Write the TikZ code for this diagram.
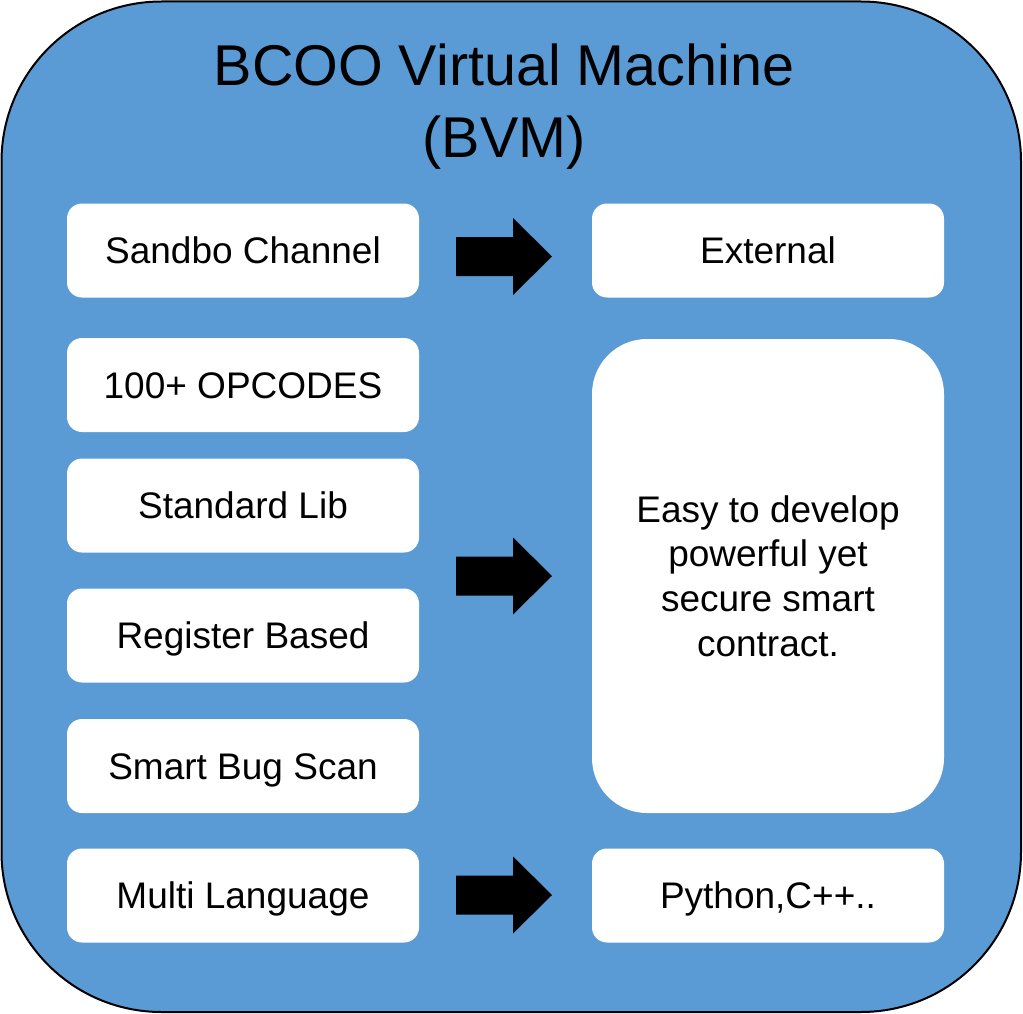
\documentclass[tikz,border=0pt]{standalone}
\usepackage{fontspec}
\setmainfont{Liberation Sans}
\definecolor{vmblue}{RGB}{91,155,213}
\tikzset{
  smallbox/.style={fill=white, rounded corners=15pt, minimum width=352pt, minimum height=94pt, inner sep=0pt,
    font=\fontsize{37}{44.7}\selectfont, text depth=0pt, text height=26pt},
  bigbox/.style={fill=white, rounded corners=55pt, minimum width=352pt, minimum height=474pt, inner sep=0pt},
  bigtext/.style={align=center, font=\fontsize{37}{44.7}\selectfont, inner sep=0pt},
  titletext/.style={align=center, font=\fontsize{57.5}{73}\selectfont, inner sep=0pt},
  blockarrowstyle/.style={fill=black}
}
\newcommand\blockarrow[1]{%
  \fill[blockarrowstyle] (#1) ++(-48,-19.5) -- ++(57,0) -- ++(0,-19) -- ++(39,38.5)
    -- ++(-39,38.5) -- ++(0,-19) -- ++(-57,0) -- cycle;}
\begin{document}
\begin{tikzpicture}[x=1pt,y=-1pt]
\useasboundingbox (0,0) rectangle (1023,1014);
% outer container
\draw[fill=vmblue, draw=black, line width=2pt, rounded corners=160pt] (1.5,1.5) rectangle (1021,1012);
\node[titletext, anchor=base] (title) at (504,158) {BCOO Virtual Machine\\(BVM)};
% left column
\node[smallbox] (sandbo)   at (243,250.5) {Sandbo Channel};
\node[smallbox] (opcodes)  at (243,385)   {100+ OPCODES};
\node[smallbox] (stdlib)   at (243,505.5) {Standard Lib};
\node[smallbox] (register) at (243,635.5) {Register Based};
\node[smallbox] (bugscan)  at (243,766)   {Smart Bug Scan};
\node[smallbox] (multi)    at (243,895.5) {Multi Language};
% right column
\node[smallbox] (external) at (768,250.5) {External};
\node[bigbox]   (easy)     at (768,576)   {};
\node[bigtext]  (easytext) at (easy.center) {Easy to develop\\powerful yet\\secure smart\\contract.};
\node[smallbox] (python)   at (768,895.5) {Python,C++..};
% block arrows
\coordinate (ar1) at (504,256.5);
\coordinate (ar2) at (504,576);
\coordinate (ar3) at (504,895);
\blockarrow{ar1}
\blockarrow{ar2}
\blockarrow{ar3}
\end{tikzpicture}
\end{document}
